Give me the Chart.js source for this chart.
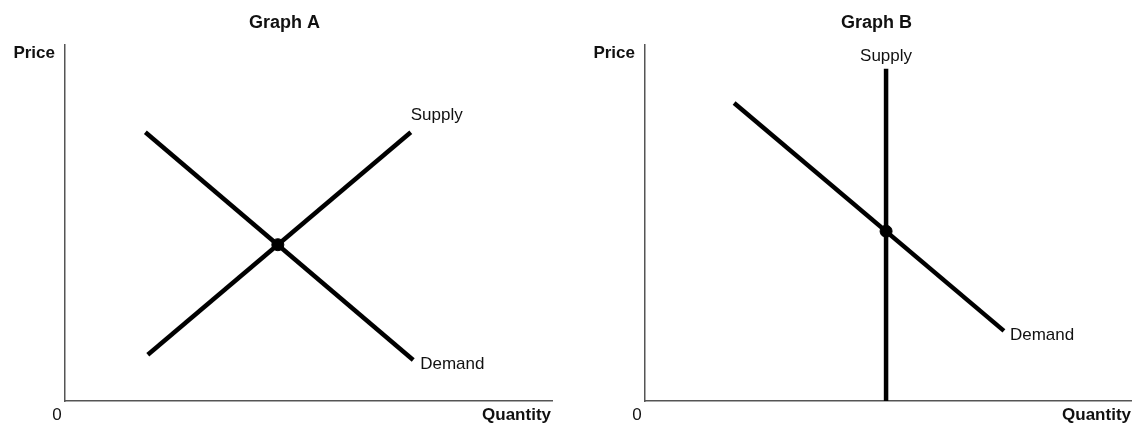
<!DOCTYPE html>
<html>
<head>
<meta charset="utf-8">
<script src="https://cdn.jsdelivr.net/npm/chart.js@4.4.1/dist/chart.umd.min.js"></script>
<style>
    body { margin: 0; background: #fff; }
    .row { display: flex; width: 1132px; height: 424px; }
    .cell { width: 566px; height: 424px; }
</style>
</head>
<body>
<div class="row">
    <div class="cell"><canvas id="graphA" width="566" height="424"></canvas></div>
    <div class="cell"><canvas id="graphB" width="566" height="424"></canvas></div>
</div>
<script>
// axis range (arbitrary units, no ticks shown)
const axisMin = 0;
const axisMax = 10;
const axisLabels = { y: 'Price', x: 'Quantity', origin: '0' };

// Graph A: upward supply, downward demand
const aTitle = 'Graph A';
const aSupplyQ = [1.7, 7.1];
const aSupplyP = [1.3, 7.55];
const aDemandQ = [1.65, 7.15];
const aDemandP = [7.55, 1.15];
const aEquilibrium = [4.37, 4.39];

// Graph B: vertical supply, downward demand
const bTitle = 'Graph B';
const bSupplyQ = [4.95, 4.95];
const bSupplyP = [0, 9.33];
const bDemandQ = [1.83, 7.37];
const bDemandP = [8.37, 1.97];
const bEquilibrium = [4.95, 4.77];

const FONT = '"Liberation Sans", Arial, Helvetica, sans-serif';

const toPoints = (qs, ps) => qs.map((q, i) => ({ x: q, y: ps[i] }));

// draws title, axis captions and curve names
const textPlugin = {
    id: 'econText',
    afterDatasetsDraw(chart, args, opts) {
        const ctx = chart.ctx;
        const area = chart.chartArea;
        ctx.save();
        ctx.fillStyle = '#111';
        ctx.textBaseline = 'middle';

        // title, nudged from the plot centre like the original
        ctx.font = 'bold 18px ' + FONT;
        ctx.textAlign = 'center';
        ctx.fillText(opts.title, (area.left + area.right) / 2 + (opts.titleShift || 0), 23);

        ctx.font = 'bold 17px ' + FONT;
        ctx.textAlign = 'right';
        ctx.fillText(axisLabels.y, area.left - 10, area.top + 8);
        ctx.fillText(axisLabels.x, area.right - 1, area.bottom + 14);

        ctx.font = '17px ' + FONT;
        ctx.textAlign = 'center';
        ctx.fillText(axisLabels.origin, area.left - 8, area.bottom + 14);

        chart.data.datasets.forEach((ds, i) => {
            if (!ds.endLabel) return;
            const pts = chart.getDatasetMeta(i).data;
            const last = pts[pts.length - 1];
            ctx.textAlign = ds.labelAlign || 'left';
            ctx.fillText(ds.endLabel, last.x + (ds.labelDx || 0), last.y + (ds.labelDy || 0));
        });
        ctx.restore();
    }
};

function axisOpts() {
    return {
        type: 'linear',
        min: axisMin,
        max: axisMax,
        ticks: { display: false },
        grid: { display: false, drawTicks: false },
        border: { display: true, color: '#555', width: 1.5 }
    };
}

function curve(points, label, extra) {
    return Object.assign({
        label: label,
        data: points,
        showLine: true,
        borderColor: '#000',
        borderWidth: 4.5,
        pointRadius: 0,
        pointHoverRadius: 0,
        fill: false,
        endLabel: label
    }, extra);
}

function makeGraph(id, title, titleShift, datasets, pad) {
    const ctx = document.getElementById(id).getContext('2d');
    return new Chart(ctx, {
        type: 'scatter',
        data: { datasets: datasets },
        options: {
            responsive: false,
            animation: false,
            devicePixelRatio: 1,
            layout: { padding: pad, autoPadding: false },
            plugins: {
                legend: { display: false },
                tooltip: { enabled: false },
                title: { display: false },
                econText: { title: title, titleShift: titleShift }
            },
            scales: { x: axisOpts(), y: axisOpts() }
        },
        plugins: [textPlugin]
    });
}

const dot = (q, p) => ({
    label: 'Equilibrium',
    data: [{ x: q, y: p }],
    pointRadius: 6,
    pointBackgroundColor: '#000',
    pointBorderColor: '#000',
    showLine: false
});

makeGraph('graphA', aTitle, -24, [
    curve(toPoints(aSupplyQ, aSupplyP), 'Supply', { labelDx: 0, labelDy: -17 }),
    curve(toPoints(aDemandQ, aDemandP), 'Demand', { labelDx: 7, labelDy: 4 }),
    dot(aEquilibrium[0], aEquilibrium[1])
], { left: 65, right: 14, bottom: 23, top: 45 });

makeGraph('graphB', bTitle, -12, [
    curve(toPoints(bSupplyQ, bSupplyP), 'Supply', { labelAlign: 'center', labelDx: 0, labelDy: -13 }),
    curve(toPoints(bDemandQ, bDemandP), 'Demand', { labelDx: 6, labelDy: 4 }),
    dot(bEquilibrium[0], bEquilibrium[1])
], { left: 79, right: 0, bottom: 23, top: 45 });
</script>
</body>
</html>
